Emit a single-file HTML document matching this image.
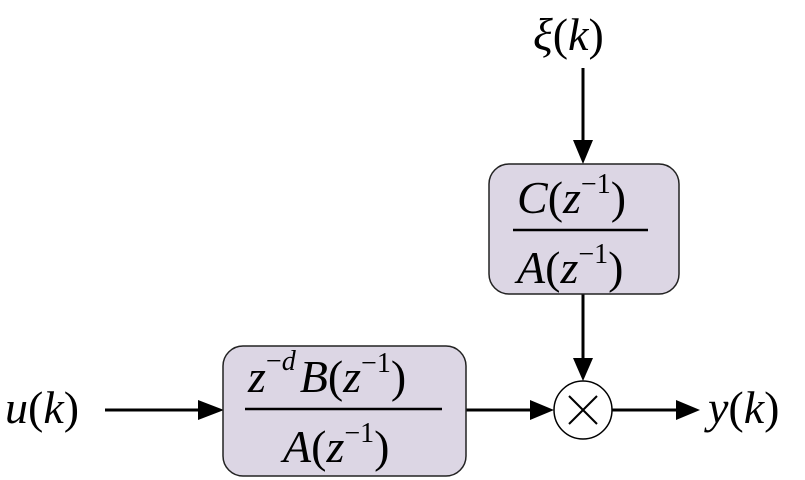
<!DOCTYPE html>
<html><head><meta charset="utf-8"><style>
html,body{margin:0;padding:0;background:#fff}
svg{display:block}
text{font-family:"Liberation Serif",serif;font-size:46px;fill:#000}
.i{font-style:italic}
</style></head><body>
<svg width="805" height="480" viewBox="0 0 805 480">
<defs><marker id="a" markerWidth="10" markerHeight="10" refX="9" refY="5" orient="auto" markerUnits="userSpaceOnUse" viewBox="0 0 10 10"></marker></defs>
<g stroke="#000" stroke-width="3" fill="none">
<line x1="583" y1="68" x2="583" y2="142"/>
<line x1="583" y1="294" x2="583" y2="360"/>
<line x1="105" y1="410" x2="200" y2="410"/>
<line x1="466" y1="410" x2="532" y2="410"/>
<line x1="612" y1="410" x2="678" y2="410"/>
</g>
<g fill="#000">
<polygon points="573,140 593,140 583,164"/>
<polygon points="573,358 593,358 583,381"/>
<polygon points="198,400 198,420 224,410"/>
<polygon points="530,400 530,420 554,410"/>
<polygon points="676,400 676,420 700,410"/>
</g>
<rect x="489" y="164" width="190" height="130" rx="20" fill="#dcd6e4" stroke="#222" stroke-width="1.5"/>
<rect x="223" y="346" width="243" height="130" rx="20" fill="#dcd6e4" stroke="#222" stroke-width="1.5"/>
<line x1="513" y1="230" x2="648" y2="230" stroke="#000" stroke-width="2.5"/>
<line x1="245" y1="409" x2="442" y2="409" stroke="#000" stroke-width="2.5"/>
<circle cx="583" cy="410" r="29" fill="#fff" stroke="#000" stroke-width="1.5"/>
<g stroke="#000" stroke-width="2"><line x1="569" y1="396" x2="597" y2="424"/><line x1="597" y1="396" x2="569" y2="424"/></g>
<text x="533" y="50"><tspan class="i">ξ</tspan>(<tspan class="i">k</tspan>)</text>
<text x="5" y="423"><tspan class="i">u</tspan>(<tspan class="i">k</tspan>)</text>
<text x="708" y="423"><tspan class="i">y</tspan>(<tspan class="i">k</tspan>)</text>
<text x="517" y="213"><tspan class="i">C</tspan>(<tspan class="i">z</tspan><tspan font-size="28" dy="-20">−1</tspan><tspan dy="20">)</tspan></text>
<text x="517" y="283"><tspan class="i">A</tspan>(<tspan class="i">z</tspan><tspan font-size="28" dy="-20">−1</tspan><tspan dy="20">)</tspan></text>
<text x="248" y="392"><tspan class="i">z</tspan><tspan font-size="28" dy="-22">−<tspan class="i">d</tspan></tspan><tspan dy="22" dx="4" class="i">B</tspan>(<tspan class="i">z</tspan><tspan font-size="28" dy="-20">−1</tspan><tspan dy="20">)</tspan></text>
<text x="283" y="462"><tspan class="i">A</tspan>(<tspan class="i">z</tspan><tspan font-size="28" dy="-20">−1</tspan><tspan dy="20">)</tspan></text>
</svg>
</body></html>
